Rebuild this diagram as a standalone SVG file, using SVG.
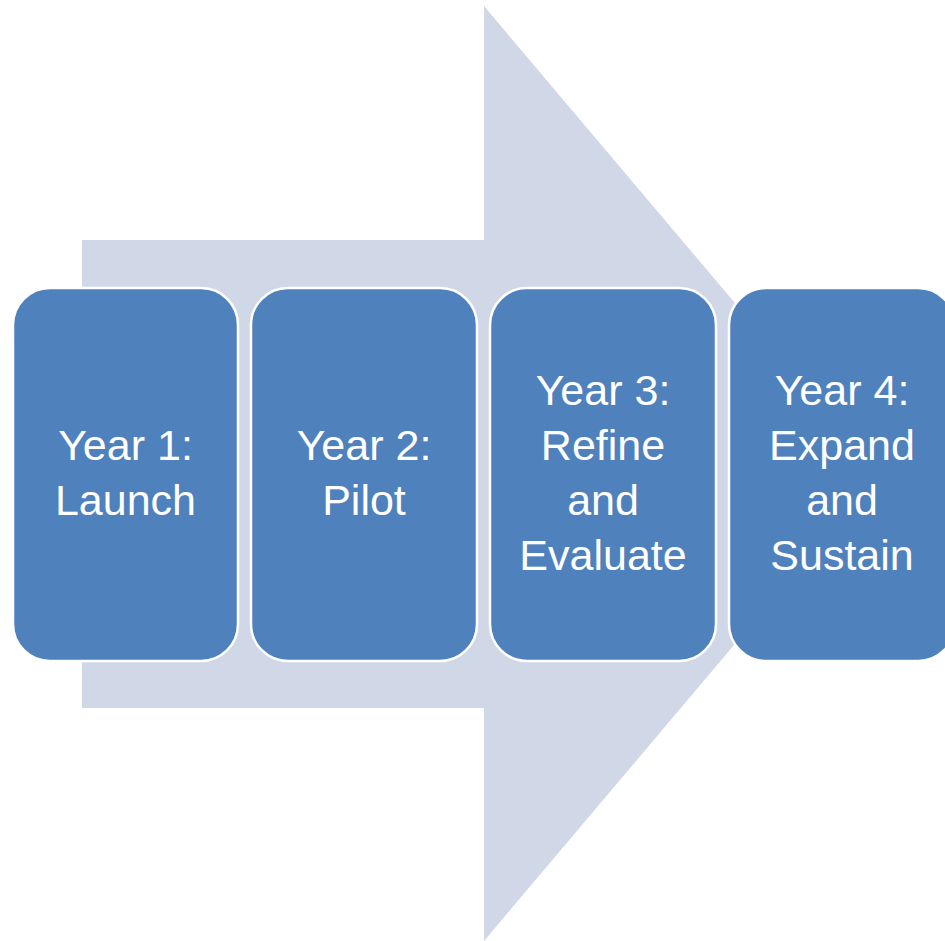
<svg xmlns="http://www.w3.org/2000/svg" width="945" height="941" viewBox="0 0 945 941">
<style>
.box{fill:#4F81BD;stroke:#FFFFFF;stroke-width:2.5}
.lbl{fill:#FFFFFF;font-family:"Liberation Sans",Arial,sans-serif;font-size:43px;text-anchor:middle}
</style>
<rect width="945" height="941" fill="#FFFFFF"/>
<g id="arrow">
<polygon points="82,240 484,240 484,6 879,473.5 484,941 484,708 82,708" fill="#D0D8E8"/>
</g>
<g id="node1">
<rect class="box" x="13" y="288" width="225" height="373" rx="37" ry="37"/>
<text class="lbl" x="125.5" y="460">Year 1:</text>
<text class="lbl" x="125.5" y="515">Launch</text>
</g>
<g id="node2">
<rect class="box" x="251" y="288" width="226" height="373" rx="37" ry="37"/>
<text class="lbl" x="364" y="460">Year 2:</text>
<text class="lbl" x="364" y="515">Pilot</text>
</g>
<g id="node3">
<rect class="box" x="490" y="288" width="226" height="373" rx="37" ry="37"/>
<text class="lbl" x="603" y="405">Year 3:</text>
<text class="lbl" x="603" y="460">Refine</text>
<text class="lbl" x="603" y="515">and</text>
<text class="lbl" x="603" y="570">Evaluate</text>
</g>
<g id="node4">
<rect class="box" x="729" y="288" width="226" height="373" rx="37" ry="37"/>
<text class="lbl" x="842" y="405">Year 4:</text>
<text class="lbl" x="842" y="460">Expand</text>
<text class="lbl" x="842" y="515">and</text>
<text class="lbl" x="842" y="570">Sustain</text>
</g>
<g id="connectors"></g>
</svg>
